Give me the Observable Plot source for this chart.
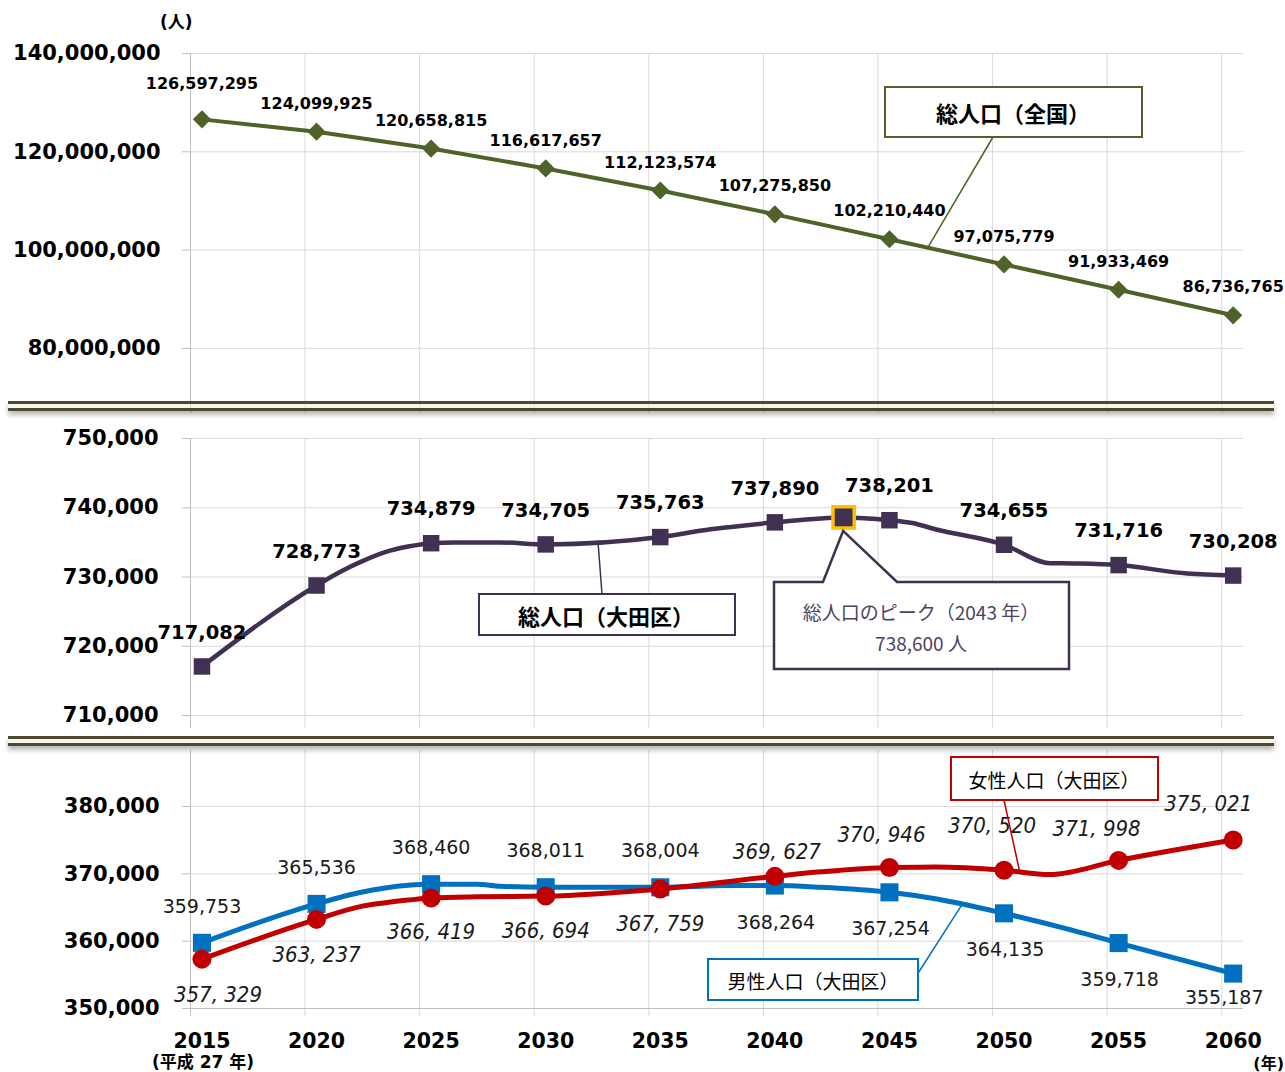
<!DOCTYPE html>
<html lang="ja">
<head>
<meta charset="utf-8">
<script src="https://cdn.jsdelivr.net/npm/d3@7"></script>
<script src="https://cdn.jsdelivr.net/npm/@observablehq/plot@0.6"></script>
<style>
html,body{margin:0;padding:0;background:#fff;}
#root{position:relative;width:1285px;height:1072px;overflow:hidden;background:#fff;}
.panel{position:absolute;left:0;z-index:1;}
.panel svg{display:block;overflow:visible;}
.sep{position:absolute;left:8px;width:1266px;height:4px;border-top:3px solid #4f4830;border-bottom:3px solid #4f4830;background:rgba(236,236,228,0.55);box-shadow:0 4px 5px rgba(0,0,0,0.28);z-index:5;}
.note{position:absolute;font-family:"DejaVu Sans","Noto Sans CJK JP",sans-serif;font-weight:bold;color:#000;white-space:nowrap;z-index:6;line-height:1;}
#overlay{position:absolute;left:0;top:0;z-index:10;}
</style>
</head>
<body>
<div id="root"></div>
<script>
// ---------------- data ----------------
const years = [2015, 2020, 2025, 2030, 2035, 2040, 2045, 2050, 2055, 2060];
const yearTickLabels = ["2015", "2020", "2025", "2030", "2035", "2040", "2045", "2050", "2055", "2060"];
const nationalTotal = [126597295, 124099925, 120658815, 116617657, 112123574, 107275850, 102210440, 97075779, 91933469, 86736765];
const otaTotal = [717082, 728773, 734879, 734705, 735763, 737890, 738201, 734655, 731716, 730208];
const otaMale = [359753, 365536, 368460, 368011, 368004, 368264, 367254, 364135, 359718, 355187];
const otaFemale = [357329, 363237, 366419, 366694, 367759, 369627, 370946, 370520, 371998, 375021];
const peakYear = 2043;
const peakValue = 738600;

// course of the lines between the labelled points
const otaTotalCourseYears = [2015, 2020, 2021, 2022, 2023, 2024, 2025, 2026, 2028, 2030, 2035, 2037, 2038, 2040, 2043, 2045, 2046, 2047, 2050, 2052, 2053, 2055, 2058, 2060];
const otaTotalCourse = [717082, 728773, 730700, 732300, 733600, 734400, 734879, 735000, 735000, 734705, 735763, 736800, 737200, 737890, 738600, 738201, 737800, 736900, 734655, 732000, 731950, 731716, 730500, 730208];
const otaMaleCourseYears = [2015, 2020, 2022, 2023, 2024, 2025, 2027, 2028, 2030, 2035, 2038, 2040, 2042, 2045, 2047, 2050, 2053, 2055, 2060];
const otaMaleCourse = [359753, 365536, 367300, 367900, 368300, 368460, 368450, 368150, 368011, 368004, 368250, 368264, 368000, 367254, 366300, 364135, 361600, 359718, 355187];
const otaFemaleCourseYears = [2015, 2020, 2022, 2023, 2024, 2025, 2027, 2030, 2035, 2040, 2042, 2045, 2047, 2050, 2052, 2055, 2060];
const otaFemaleCourse = [357329, 363237, 365200, 365700, 366100, 366419, 366600, 366694, 367759, 369627, 370300, 370946, 371000, 370520, 369900, 371998, 375021];

const nationalTicks = [80000000, 100000000, 120000000, 140000000];
const otaTotalTicks = [710000, 720000, 730000, 740000, 750000];
const otaSexTicks = [350000, 360000, 370000, 380000];

const nationalName = "総人口（全国）";
const otaTotalName = "総人口（大田区）";
const otaFemaleName = "女性人口（大田区）";
const otaMaleName = "男性人口（大田区）";
const peakNote1 = "総人口のピーク（2043 年）";
const peakNote2 = "738,600 人";
const unitLabel = "(人)";
const eraLabel = "(平成 27 年)";
const yearUnitLabel = "(年)";

// ---------------- styling ----------------
const W = 1285, H = 1072;
const GREEN = "#4f6228", PURPLE = "#403152", BLUE = "#0070c0", RED = "#c00000", GOLD = "#ffc000";
const GRID = "#d9d9d9", AXIS = "#bfbfbf";
const NUM = '"DejaVu Sans","Noto Sans CJK JP",sans-serif';
const JP = '"Noto Sans CJK JP","DejaVu Sans",sans-serif';
const HAND = '"Liberation Sans Narrow","DejaVu Sans Condensed","DejaVu Sans",sans-serif';
const fmt = d3.format(",");
const fmtHand = v => fmt(v).replace(",", ", ");
const X_DOMAIN = [2014.5, 2060.45];
const gridYears = years.map(y => y - 0.5);
const rows = vals => years.map((year, i) => ({year, value: vals[i]}));
const course = (ys, vs) => ys.map((year, i) => ({year, value: vs[i]}));
const interp = (ys, vs, t) => {
  for (let i = 0; i < ys.length - 1; i++) {
    if (t >= ys[i] && t <= ys[i + 1]) return vs[i] + (vs[i + 1] - vs[i]) * (t - ys[i]) / (ys[i + 1] - ys[i]);
  }
  return vs[vs.length - 1];
};

function frameMarks(ticks, vTop, vBottom, tickPadding) {
  return [
    Plot.ruleY(ticks, {x1: gridYears[0], x2: X_DOMAIN[1], stroke: GRID, strokeWidth: 1}),
    Plot.ruleX(gridYears.slice(1), {y1: vBottom, y2: vTop, stroke: GRID, strokeWidth: 1}),
    Plot.ruleX([gridYears[0]], {y1: vBottom, y2: vTop, stroke: AXIS, strokeWidth: 1}),
    Plot.axisY(ticks, {anchor: "left", tickSize: 8, tickPadding, tickFormat: fmt, fontSize: 21, fontWeight: "bold", fill: "#000", stroke: AXIS, label: null, fontFamily: NUM})
  ];
}
const common = {
  width: W, marginLeft: 190, marginRight: 42,
  x: {domain: X_DOMAIN, axis: null},
  style: {fontFamily: NUM, background: "transparent", overflow: "visible"}
};

const root = document.getElementById("root");
function addPanel(plot, top) {
  const d = document.createElement("div");
  d.className = "panel"; d.style.top = top + "px";
  d.appendChild(plot); root.appendChild(d);
}

// ---------------- top panel: national ----------------
const natRows = rows(nationalTotal);
const topY = [140000000 - 360 / 4.915 * 1e6, 140000000];
const topPlot = Plot.plot({
  ...common, height: 413, marginTop: 53, marginBottom: 0,
  y: {domain: topY, axis: null},
  marks: [
    ...frameMarks(nationalTicks, topY[1], topY[0], 22),
    Plot.line(natRows, {x: "year", y: "value", stroke: GREEN, strokeWidth: 4}),
    Plot.dot(natRows, {x: "year", y: "value", symbol: "diamond2", r: 8.2, fill: GREEN}),
    ...natRows.map((d, i) => Plot.text([d], {x: "year", y: "value", text: r => fmt(r.value), dy: i === 0 ? -35 : -28, fontSize: 16, fontWeight: "bold", fill: "#000", fontFamily: NUM}))
  ]
});
addPanel(topPlot, 0);

// ---------------- middle panel: Ota total ----------------
const midRows = rows(otaTotal);
const midY = [750000 - 290 / 6.925 * 1000, 750000];
const midPlot = Plot.plot({
  ...common, height: 324, marginTop: 25, marginBottom: 9,
  y: {domain: midY, axis: null},
  marks: [
    ...frameMarks(otaTotalTicks, midY[1], midY[0], 24),
    Plot.line(course(otaTotalCourseYears, otaTotalCourse), {x: "year", y: "value", stroke: PURPLE, strokeWidth: 4.5, curve: "monotone-x"}),
    Plot.dot(midRows, {x: "year", y: "value", symbol: "square", r: 9.3, fill: PURPLE}),
    Plot.dot([{year: peakYear, value: peakValue}], {x: "year", y: "value", symbol: "square", r: 12, fill: PURPLE, stroke: GOLD, strokeWidth: 3.5}),
    Plot.text(midRows, {x: "year", y: "value", text: r => fmt(r.value), dy: -34, fontSize: 19.5, fontWeight: "bold", fill: "#000", fontFamily: NUM})
  ]
});
addPanel(midPlot, 413);

// ---------------- bottom panel: Ota by sex ----------------
const maleRows = rows(otaMale);
const femaleRows = rows(otaFemale);
const botY = [350000, 350000 + 258 / 6.733 * 1000];
const maleOffset = (y) => y <= 2035 ? [0, -36] : (y === 2060 ? [-9, 24] : [1, 37]);
const femaleOffset = {2015: [16, 36], 2020: [0, 36], 2025: [0, 34], 2030: [0, 35], 2035: [0, 35], 2040: [2, -24], 2045: [-8, -33], 2050: [-12, -44], 2055: [-22, -31], 2060: [-25, -36]};
const botPlot = Plot.plot({
  ...common, height: 327, marginTop: 5, marginBottom: 64,
  y: {domain: botY, axis: null},
  marks: [
    ...frameMarks(otaSexTicks.slice(1), botY[1], 350000 - 8 / 6.733 * 1000, 23),
    Plot.ruleY([350000], {x1: gridYears[0], x2: X_DOMAIN[1], stroke: AXIS, strokeWidth: 1.2}),
    Plot.axisY([350000], {anchor: "left", tickSize: 8, tickPadding: 23, tickFormat: fmt, fontSize: 21, fontWeight: "bold", fill: "#000", stroke: AXIS, label: null, fontFamily: NUM}),
    Plot.line(course(otaMaleCourseYears, otaMaleCourse), {x: "year", y: "value", stroke: BLUE, strokeWidth: 5, curve: "monotone-x"}),
    Plot.dot(maleRows, {x: "year", y: "value", symbol: "square", r: 10.2, fill: BLUE}),
    Plot.line(course(otaFemaleCourseYears, otaFemaleCourse), {x: "year", y: "value", stroke: RED, strokeWidth: 5, curve: "monotone-x"}),
    Plot.dot(femaleRows, {x: "year", y: "value", symbol: "circle", r: 9.5, fill: RED}),
    ...maleRows.map(d => Plot.text([d], {x: "year", y: "value", text: r => fmt(r.value), dx: maleOffset(d.year)[0], dy: maleOffset(d.year)[1], fontSize: 19, fill: "#1a1a1a", fontFamily: NUM})),
    ...femaleRows.map(d => Plot.text([d], {x: "year", y: "value", text: r => fmtHand(r.value), dx: femaleOffset[d.year][0], dy: femaleOffset[d.year][1], fontSize: 22, fontStyle: "italic", fill: "#1a1a1a", fontFamily: HAND})),
    Plot.text(years.map((y, i) => ({year: y, label: yearTickLabels[i]})), {x: "year", y: () => 350000, text: "label", dy: 33, fontSize: 20.5, fontWeight: "bold", fill: "#000", fontFamily: NUM})
  ]
});
addPanel(botPlot, 745);

// ---------------- separators & notes ----------------
for (const t of [401, 736]) {
  const s = document.createElement("div"); s.className = "sep"; s.style.top = t + "px"; root.appendChild(s);
}
function note(text, left, top, size, align) {
  const n = document.createElement("div"); n.className = "note"; n.textContent = text;
  n.style.fontSize = size + "px"; n.style.top = top + "px";
  if (align === "right") n.style.right = left + "px"; else n.style.left = left + "px";
  root.appendChild(n);
}
note(unitLabel, 160, 14, 17);
note(eraLabel, 152, 1054, 17);
note(yearUnitLabel, 1, 1056, 16, "right");

// ---------------- callouts ----------------
const ov = d3.select(root).append("svg").attr("id", "overlay").attr("width", W).attr("height", H);
const px = (plot, top) => [v => plot.scale("x").apply(v), v => top + plot.scale("y").apply(v)];
const [txX, txY] = px(topPlot, 0), [mdX, mdY] = px(midPlot, 413), [btX, btY] = px(botPlot, 745);
function leader(x1, y1, x2, y2, color, w) {
  ov.append("line").attr("x1", x1).attr("y1", y1).attr("x2", x2).attr("y2", y2).attr("stroke", color).attr("stroke-width", w);
}
function box(x, y, w, h, color, sw) {
  ov.append("rect").attr("x", x).attr("y", y).attr("width", w).attr("height", h).attr("fill", "#fff").attr("stroke", color).attr("stroke-width", sw);
}
function label(x, y, text, size, weight, fill) {
  ov.append("text").attr("x", x).attr("y", y).attr("text-anchor", "middle").attr("dominant-baseline", "central")
    .attr("font-family", JP).attr("font-size", size).attr("font-weight", weight).attr("fill", fill).text(text);
}
// national
{
  const t = 2046.7;
  leader(993, 137, txX(t), txY(interp(years, nationalTotal, t)), GREEN, 1.5);
  box(885, 87, 257, 50, GREEN, 2);
  label(1013, 112, nationalName, 22, "bold", "#000");
}
// Ota total
{
  const t = 2032.3;
  leader(602, 594, mdX(t), mdY(interp(otaTotalCourseYears, otaTotalCourse, t)), PURPLE, 1.5);
  box(479, 594, 256, 41, PURPLE, 2);
  label(606, 615, otaTotalName, 22, "bold", "#000");
}
// peak callout
{
  const tipX = mdX(peakYear), tipY = mdY(peakValue) + 14;
  const pts = [[774, 582], [823, 582], [tipX, tipY], [897, 582], [1069, 582], [1069, 669], [774, 669]];
  ov.append("path").attr("d", "M" + pts.map(p => p.join(",")).join("L") + "Z")
    .attr("fill", "#fff").attr("stroke", PURPLE).attr("stroke-width", 2.5).attr("stroke-linejoin", "miter");
  label(921, 611, peakNote1, 19, "normal", "#4e4263");
  label(921, 642, peakNote2, 19, "normal", "#4e4263");
}
// female
{
  const t = 2050.7;
  leader(1004, 800, btX(t), btY(interp(otaFemaleCourseYears, otaFemaleCourse, t)), RED, 1.5);
  box(951, 757, 207, 43, RED, 2);
  label(1054, 779, otaFemaleName, 19, "normal", "#000");
}
// male
{
  const t = 2048.2;
  leader(915, 978, btX(t), btY(interp(otaMaleCourseYears, otaMaleCourse, t)), BLUE, 1.5);
  box(708, 959, 210, 41, BLUE, 2);
  label(813, 980, otaMaleName, 19, "normal", "#000");
}
</script>
</body>
</html>
